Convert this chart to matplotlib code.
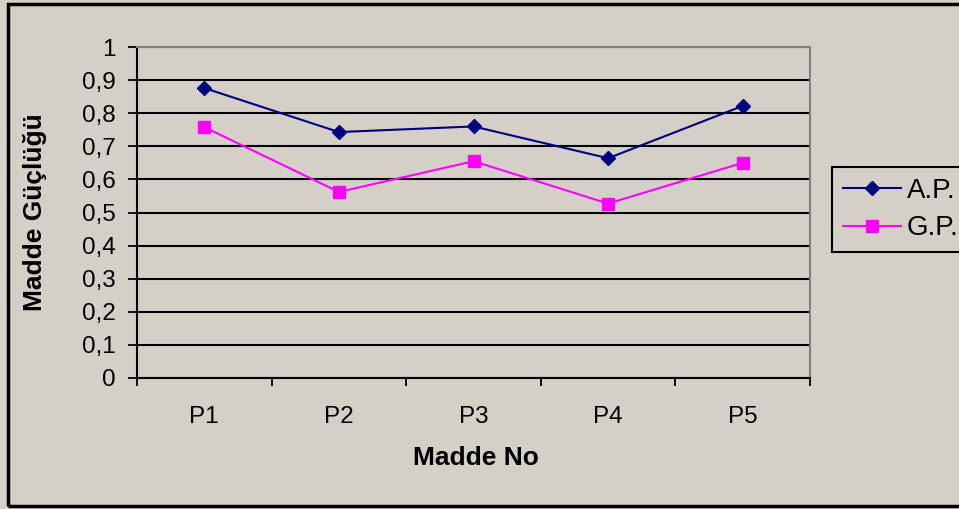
import matplotlib.pyplot as plt
import numpy as np
from matplotlib.patches import Rectangle

plt.rcParams['font.family'] = ['Liberation Sans', 'DejaVu Sans']

categories = ["P1", "P2", "P3", "P4", "P5"]
ap_values = [0.876, 0.743, 0.760, 0.664, 0.822]
gp_values = [0.758, 0.562, 0.655, 0.527, 0.650]

bg = "#D4D0C8"
W, H = 959, 509

fig = plt.figure(figsize=(W / 100, H / 100), dpi=100, facecolor=bg)
ax = fig.add_axes([137 / W, 1 - 378 / H, (810 - 137) / W, (378 - 47) / H])
ax.set_facecolor(bg)

x = np.arange(len(categories))
ax.plot(x, ap_values, color="#000080", lw=1.5, marker="D", ms=7, label="A.P.")
ax.plot(x, gp_values, color="#FF00FF", lw=1.5, marker="s", ms=8, label="G.P.")

ax.set_xlim(-0.5, len(categories) - 0.5)
ax.set_ylim(0, 1)
ax.set_yticks(np.arange(0, 1.01, 0.1))
ax.set_yticklabels(["0"] + [f"0,{i}" for i in range(1, 10)] + ["1"], fontsize=17.5)
ax.set_xticks(x)
ax.set_xticklabels(categories, fontsize=17.5)
ax.set_xticks(np.arange(-0.5, len(categories), 1), minor=True)
ax.tick_params(axis="x", which="major", length=0, pad=20)
ax.tick_params(axis="x", which="minor", length=6, width=1.3, direction="out")
ax.tick_params(axis="y", length=6.5, width=1.3, direction="out", pad=9)

ax.grid(axis="y", color="black", lw=1.5)
ax.set_axisbelow(True)
for side in ["top", "right"]:
    ax.spines[side].set_color("#808080")
    ax.spines[side].set_linewidth(1.5)
for side in ["left", "bottom"]:
    ax.spines[side].set_color("black")
    ax.spines[side].set_linewidth(1.5)

ax.set_xlabel("Madde No", fontsize=19, fontweight="bold")
ax.set_ylabel("Madde Güçlüğü", fontsize=19, fontweight="bold")
ax.xaxis.set_label_coords(0.503, -0.205)
ax.yaxis.set_label_coords(-0.133, 0.5)

leg = fig.legend(loc="upper left", bbox_to_anchor=(832 / W, 1 - 167 / H),
                 borderaxespad=0, fontsize=20, frameon=True, fancybox=False,
                 edgecolor="black", facecolor=bg, framealpha=1,
                 handlelength=2.1, handletextpad=0.2,
                 borderpad=0.4, labelspacing=0.4)
leg.get_frame().set_linewidth(1.5)

fig.patches.append(Rectangle((7.5 / W, 1 - 506 / H), 1.0, (506 - 3.5) / H,
                             transform=fig.transFigure, fill=False,
                             edgecolor="black", lw=2.5))

fig.savefig("out.png", dpi=100, facecolor=bg)
